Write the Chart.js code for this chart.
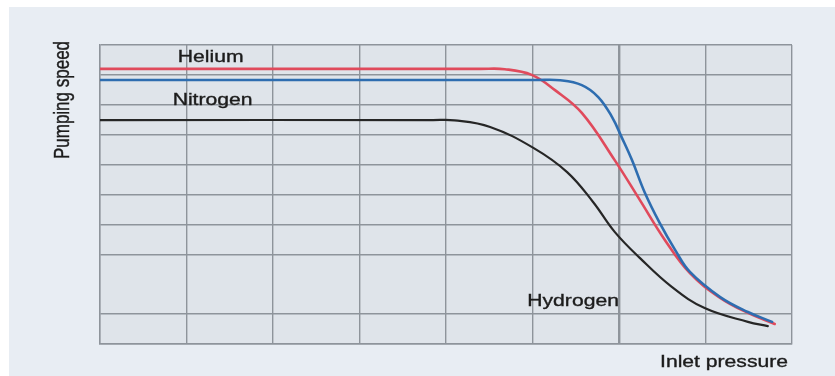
<!DOCTYPE html>
<html>
<head>
<meta charset="utf-8">
<script src="https://cdn.jsdelivr.net/npm/chart.js@4/dist/chart.umd.min.js"></script>
<style>
  html, body { margin: 0; padding: 0; background: #ffffff; }
  #wrap { width: 835px; height: 376px; }
</style>
</head>
<body>
<div id="wrap"><canvas id="c" width="835" height="376"></canvas></div>
<script>
// ---- data (axes are unitless 0..8 / 0..10) ----
const heliumX   = [0, 4.40, 4.68, 4.99, 5.26, 5.57, 5.95, 6.24, 6.53, 6.82, 7.17, 7.49, 7.80];
const heliumY   = [9.20, 9.20, 9.19, 9.00, 8.49, 7.73, 6.15, 4.82, 3.48, 2.37, 1.54, 1.04, 0.67];
const nitrogenX = [0, 5.05, 5.32, 5.57, 5.76, 5.92, 6.03, 6.15, 6.30, 6.47, 6.65, 6.82, 7.17, 7.49, 7.77];
const nitrogenY = [8.83, 8.83, 8.82, 8.66, 8.26, 7.59, 6.92, 6.15, 5.05, 4.05, 3.14, 2.41, 1.57, 1.07, 0.74];
const hydrogenX = [0, 3.85, 4.10, 4.51, 5.01, 5.40, 5.70, 5.95, 6.24, 6.61, 6.99, 7.49, 7.72];
const hydrogenY = [7.49, 7.49, 7.48, 7.26, 6.56, 5.75, 4.75, 3.75, 2.88, 1.91, 1.20, 0.74, 0.60];
const seriesNames = ['Helium', 'Nitrogen', 'Hydrogen'];
const xTitle = 'Inlet pressure';
const yTitle = 'Pumping speed';
const xRange = [0, 8];
const yRange = [0, 10];
const hiddenYGrid = [2];
const heavyXGrid = [6];

function pts(xs, ys) { return xs.map((x, i) => ({ x: x, y: ys[i] })); }

const STRETCH = 1.32;
const FONT = '16px "Liberation Sans", Arial, sans-serif';
const TEXT_COLOR = '#1c1c1c';
const GRID = '#8e949b';

function drawText(ctx, text) {
  ctx.fillText(text, 0, 0);
  ctx.strokeText(text, 0, 0);
}

function drawStretched(ctx, text, x, y) {
  ctx.save();
  ctx.translate(x, y);
  ctx.scale(STRETCH, 1);
  drawText(ctx, text);
  ctx.restore();
}

const backgroundPlugin = {
  id: 'bg',
  beforeDraw(chart) {
    const ctx = chart.ctx, a = chart.chartArea;
    ctx.save();
    ctx.fillStyle = '#ffffff';
    ctx.fillRect(0, 0, chart.width, chart.height);
    ctx.fillStyle = '#e8edf3';
    ctx.fillRect(9, 7, chart.width - 9, chart.height - 7);
    ctx.fillStyle = '#dfe4ea';
    ctx.fillRect(a.left, a.top, a.right - a.left, a.bottom - a.top);
    ctx.restore();
  }
};

const labelPlugin = {
  id: 'labels',
  afterDraw(chart) {
    const ctx = chart.ctx, a = chart.chartArea;
    const xs = chart.scales.x, ys = chart.scales.y;
    ctx.save();
    ctx.fillStyle = TEXT_COLOR;
    ctx.strokeStyle = TEXT_COLOR;
    ctx.lineWidth = 0.35;
    ctx.font = FONT;
    ctx.textBaseline = 'alphabetic';
    ctx.textAlign = 'left';
    // series labels anchored in data space
    const anchors = [[0.90, 9.43], [0.84, 7.99], [4.94, 1.28]];
    seriesNames.forEach((n, i) => {
      drawStretched(ctx, n, xs.getPixelForValue(anchors[i][0]), ys.getPixelForValue(anchors[i][1]));
    });
    // x axis title (right aligned under the plot)
    ctx.textAlign = 'right';
    drawStretched(ctx, xTitle, a.right - 4, a.bottom + 23);
    // y axis title (rotated)
    ctx.textAlign = 'center';
    ctx.textBaseline = 'middle';
    ctx.font = '17px "Liberation Sans", Arial, sans-serif';
    ctx.save();
    ctx.translate(a.left - 37, a.top + 55);
    ctx.scale(1.25, 1);
    ctx.rotate(-Math.PI / 2);
    drawText(ctx, yTitle);
    ctx.restore();
    ctx.restore();
  }
};

const lineDefaults = {
  showLine: true,
  pointRadius: 0,
  pointHoverRadius: 0,
  fill: false,
  tension: 0.4,
  borderCapStyle: 'round',
  borderJoinStyle: 'round'
};

new Chart(document.getElementById('c'), {
  type: 'scatter',
  data: {
    datasets: [
      Object.assign({ label: seriesNames[2], data: pts(hydrogenX, hydrogenY), borderColor: '#262626', borderWidth: 2.2 }, lineDefaults),
      Object.assign({ label: seriesNames[1], data: pts(nitrogenX, nitrogenY), borderColor: '#2e6db0', borderWidth: 2.6 }, lineDefaults),
      Object.assign({ label: seriesNames[0], data: pts(heliumX, heliumY), borderColor: '#e04a5c', borderWidth: 2.6 }, lineDefaults)
    ]
  },
  options: {
    responsive: false,
    animation: false,
    devicePixelRatio: 1,
    layout: { padding: { left: 100, right: 43, top: 45, bottom: 32 } },
    plugins: { legend: { display: false }, tooltip: { enabled: false }, title: { display: false } },
    scales: {
      x: {
        type: 'linear', min: xRange[0], max: xRange[1],
        ticks: { display: false, stepSize: 1 },
        grid: {
          color: GRID,
          lineWidth: (c) => (c.tick && heavyXGrid.includes(c.tick.value)) ? 2.4 : 1.4,
          drawTicks: false
        },
        border: { display: true, color: GRID, width: 1.4 }
      },
      y: {
        type: 'linear', min: yRange[0], max: yRange[1],
        ticks: { display: false, stepSize: 1 },
        grid: {
          color: (c) => (c.tick && hiddenYGrid.includes(c.tick.value)) ? 'rgba(0,0,0,0)' : GRID,
          lineWidth: 1.4, drawTicks: false
        },
        border: { display: true, color: GRID, width: 1.4 }
      }
    }
  },
  plugins: [backgroundPlugin, labelPlugin]
});
</script>
</body>
</html>
